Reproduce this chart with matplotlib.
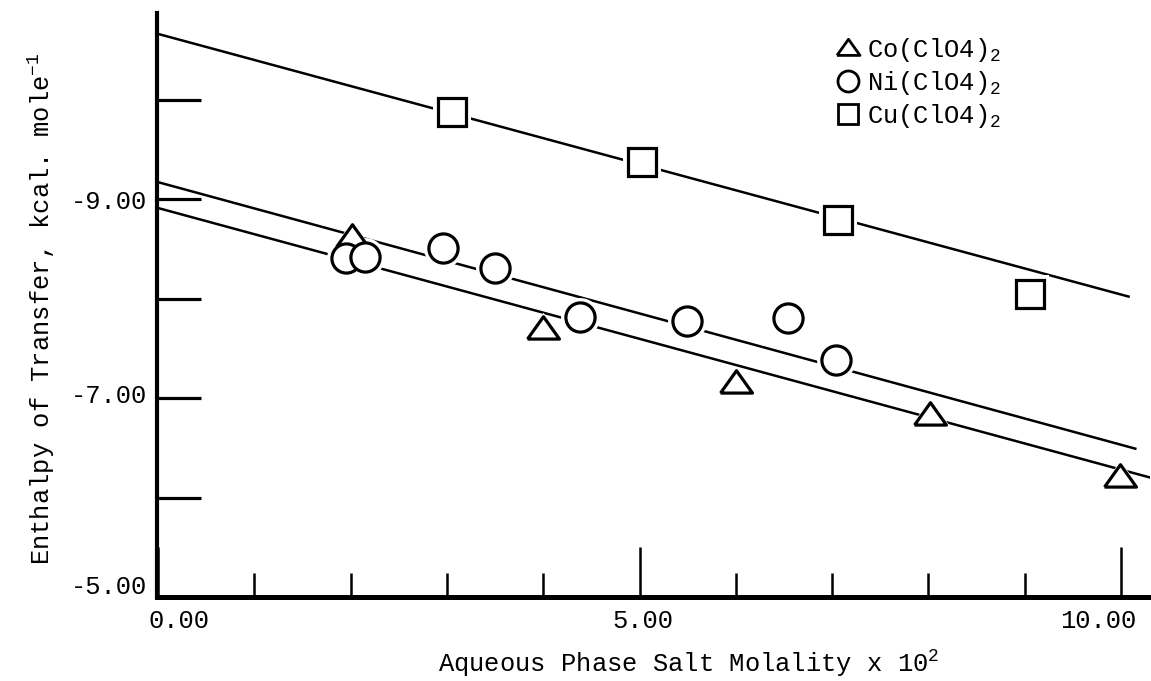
import matplotlib
matplotlib.use("Agg")
import matplotlib.pyplot as plt
import numpy as np
from matplotlib.transforms import ScaledTranslation
from matplotlib.lines import Line2D

# ---- data ----
co_x = [2.01, 4.00, 6.00, 8.02, 9.99]
co_y = [-8.62, -7.69, -7.15, -6.83, -6.21]

ni_x = [1.95, 2.15, 2.96, 3.50, 4.38, 5.49, 6.54, 7.04]
ni_y = [-8.41, -8.42, -8.51, -8.31, -7.81, -7.77, -7.80, -7.38]

cu_x = [3.05, 5.03, 7.06, 9.05]
cu_y = [-9.87, -9.37, -8.79, -8.05]

# fitted straight lines: (intercept, slope, x-end)
co_fit = (-8.91, 0.263, 10.31)
ni_fit = (-9.17, 0.264, 10.16)
cu_fit = (-10.66, 0.262, 10.09)

xtick_major = [0, 5, 10]
xtick_major_labels = ["0.00", "5.00", "10.00"]
xtick_minor = [1, 2, 3, 4, 6, 7, 8, 9]
ytick_vals = [-10, -9, -8, -7, -6, -5]
ytick_labels = ["", "-9.00", "", "-7.00", "", "-5.00"]

labels = [r"Co(ClO4)$_\mathrm{2}$", r"Ni(ClO4)$_\mathrm{2}$", r"Cu(ClO4)$_\mathrm{2}$"]

# ---- style ----
FONT = "Liberation Mono"
FS = 18.4
plt.rcParams["font.family"] = [FONT, "DejaVu Sans Mono"]
plt.rcParams["mathtext.fontset"] = "custom"
plt.rcParams["mathtext.rm"] = FONT
plt.rcParams["mathtext.it"] = FONT
plt.rcParams["mathtext.bf"] = FONT

W, H = 1151, 681
fig = plt.figure(figsize=(W / 100, H / 100), dpi=100)
ax = fig.add_axes([157 / W, 1 - 597 / H, 993 / W, 584 / H])

ax.set_xlim(-0.01, 10.3)
ax.set_ylim(-5.0, -10.87)

tri = [(-1, -0.6), (1, -0.6), (0, 0.8), (-1, -0.6)]

def fit_line(fit):
    b, m, xe = fit
    xs = np.array([0.0, xe])
    return xs, b + m * xs

for fit in (co_fit, ni_fit, cu_fit):
    xs, ys = fit_line(fit)
    ax.plot(xs, ys, color="black", lw=1.8, zorder=2, solid_capstyle="butt")

series = [
    (co_x, co_y, tri, 23),
    (ni_x, ni_y, "o", 21),
    (cu_x, cu_y, "s", 20),
]
handles = []
for (xs, ys, mk, ms), lab in zip(series, labels):
    # white halo that interrupts the fitted line around each symbol
    ax.plot(xs, ys, ls="none", marker=mk, ms=ms + 7, mfc="white", mec="white",
            mew=0, zorder=3)
    ax.plot(xs, ys, ls="none", marker=mk, ms=ms, mfc="white", mec="black",
            mew=2.3, zorder=4)
    handles.append(Line2D([], [], ls="none", marker=mk, ms=ms * 0.72,
                          mfc="white", mec="black", mew=2.0, label=lab))

# spines
for s in ("top", "right"):
    ax.spines[s].set_visible(False)
ax.spines["left"].set_linewidth(3.0)
ax.spines["bottom"].set_linewidth(3.6)

# ticks
ax.set_xticks(xtick_major)
ax.set_xticklabels(xtick_major_labels)
ax.set_xticks(xtick_minor, minor=True)
ax.set_yticks(ytick_vals)
ax.set_yticklabels(ytick_labels)
ax.tick_params(axis="x", which="major", direction="in", length=36, width=1.8,
               pad=9, labelsize=FS)
ax.tick_params(axis="x", which="minor", direction="in", length=17, width=1.8)
ax.tick_params(axis="y", which="major", direction="in", length=32, width=2.3,
               pad=7, labelsize=FS)

def shift(lbl, dx, dy):
    lbl.set_transform(lbl.get_transform() +
                      ScaledTranslation(dx / 100, dy / 100, fig.dpi_scale_trans))

for lbl, dx in zip(ax.get_xticklabels(), [21, 3, -23]):
    shift(lbl, dx, 0)
for lbl, dy in zip(ax.get_yticklabels(), [0, 0, 0, 5, 0, 13]):
    shift(lbl, 0, dy)

# axis labels
fig.text(438 / W, 1 - 672 / H, r"Aqueous Phase Salt Molality x 10$^\mathrm{2}$",
         fontsize=FS, ha="left", va="baseline")
fig.text(50 / W, 1 - 565 / H, r"Enthalpy of Transfer, kcal. mole$^\mathbf{-1}$",
         fontsize=FS, rotation=90, rotation_mode="anchor", ha="left", va="baseline")

leg = fig.legend(handles=handles, loc="upper left",
                 bbox_to_anchor=(838 / W, 1 - 36 / H), bbox_transform=fig.transFigure,
                 frameon=False, fontsize=FS, handlelength=0.8, handletextpad=0.35,
                 labelspacing=0.2, borderpad=0, borderaxespad=0)

fig.savefig("out.png", dpi=100)
